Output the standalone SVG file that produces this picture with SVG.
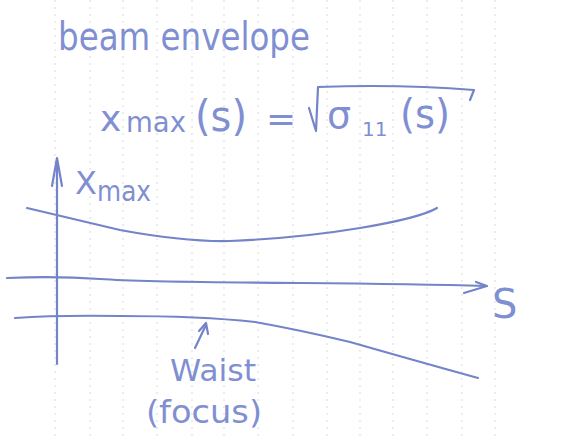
<svg xmlns="http://www.w3.org/2000/svg" width="564" height="437" viewBox="0 0 564 437">
<style>
.ink{fill:none;stroke:#7384c9;stroke-width:2.2;stroke-linecap:round;stroke-linejoin:round}
.txt{font-family:"DejaVu Sans","Liberation Sans",sans-serif;fill:#7f8fd2}
.grid{stroke:#c9c9c9;stroke-width:1;stroke-dasharray:2 5;opacity:0.7}
</style>
<rect width="564" height="437" fill="#ffffff"/>
<g id="paper">
<line class="grid" x1="55" y1="0" x2="55" y2="437"/>
<line class="grid" x1="90" y1="0" x2="90" y2="437"/>
<line class="grid" x1="123" y1="0" x2="123" y2="437"/>
<line class="grid" x1="157" y1="0" x2="157" y2="437"/>
<line class="grid" x1="192" y1="0" x2="192" y2="437"/>
<line class="grid" x1="224" y1="0" x2="224" y2="437"/>
<line class="grid" x1="258" y1="0" x2="258" y2="437"/>
<line class="grid" x1="293" y1="0" x2="293" y2="437"/>
<line class="grid" x1="327" y1="0" x2="327" y2="437"/>
<line class="grid" x1="360" y1="0" x2="360" y2="437"/>
<line class="grid" x1="393" y1="0" x2="393" y2="437"/>
<line class="grid" x1="427" y1="0" x2="427" y2="437"/>
<line class="grid" x1="462" y1="0" x2="462" y2="437"/>
<line class="grid" x1="495" y1="0" x2="495" y2="437"/>
</g>
<g id="title">
<text class="txt" x="58" y="50" font-size="39" textLength="252" lengthAdjust="spacingAndGlyphs">beam envelope</text>
</g>
<g id="formula">
<text class="txt" x="100" y="131" font-size="36">x</text>
<text class="txt" x="126" y="132" font-size="28" textLength="60" lengthAdjust="spacingAndGlyphs">max</text>
<text class="txt" x="195" y="131" font-size="42" textLength="52" lengthAdjust="spacingAndGlyphs">(s)</text>
<text class="txt" x="266" y="131" font-size="36">=</text>
<path class="ink" d="M309 108 L316 131 L318 87 Q400 84 474 90 L470 100"/>
<text class="txt" x="327" y="128" font-size="38">σ</text>
<text class="txt" x="362" y="136" font-size="20">11</text>
<text class="txt" x="400" y="128" font-size="40" textLength="50" lengthAdjust="spacingAndGlyphs">(s)</text>
</g>
<g id="axes">
<path class="ink" d="M57 364 L57 160"/>
<path class="ink" d="M52 186 L57 158 L62 186"/>
<path class="ink" d="M7 278 Q57 276 100 279 T300 283 Q420 284 486 286"/>
<path class="ink" d="M476 282 L487 286 L464 293"/>
<text class="txt" x="75" y="194" font-size="32">X</text>
<text class="txt" x="97" y="201" font-size="28" textLength="54" lengthAdjust="spacingAndGlyphs">max</text>
<text class="txt" x="492" y="318" font-size="40">S</text>
</g>
<g id="envelope">
<path class="ink" d="M27 208 Q57 215 120 230 Q185 242 230 241 Q300 238 360 228 Q420 218 437 208"/>
<path class="ink" d="M15 318 Q57 315 120 316 Q200 316 255 322 Q300 330 350 342 Q420 362 478 378"/>
</g>
<g id="waist">
<path class="ink" d="M195 348 L206 325"/>
<path class="ink" d="M199 331 L206 323 L208 334"/>
<text class="txt" x="170" y="381" font-size="30" textLength="86" lengthAdjust="spacingAndGlyphs">Waist</text>
<text class="txt" x="146" y="423" font-size="32" textLength="116" lengthAdjust="spacingAndGlyphs">(focus)</text>
</g>
</svg>
